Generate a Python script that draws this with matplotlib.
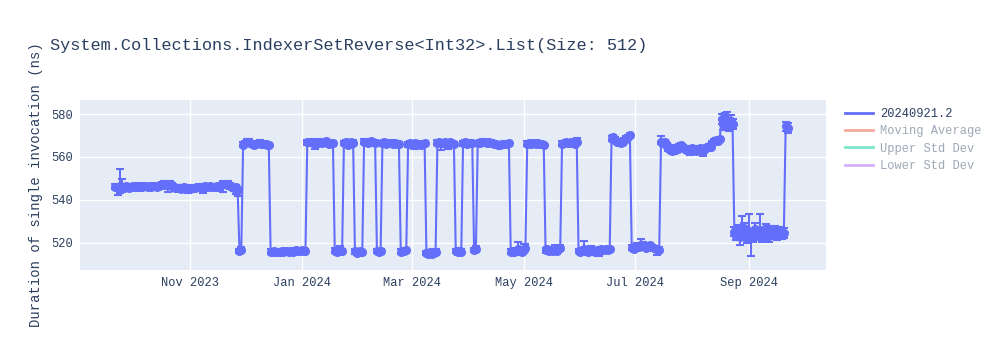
import matplotlib
matplotlib.use("Agg")
import matplotlib.pyplot as plt
import matplotlib.dates as mdates
from matplotlib.lines import Line2D
import pandas as pd

plt.rcParams['font.family'] = ['Liberation Mono', 'DejaVu Sans Mono']

title = "System.Collections.IndexerSetReverse<Int32>.List(Size: 512)"
y_label = "Duration of single invocation (ns)"
series_name = "20240921.2"
legend_names = ["20240921.2", "Moving Average", "Upper Std Dev", "Lower Std Dev"]
legend_colors = ["#636efa", "#EF553B", "#00cc96", "#ab63fa"]

# one run per day, starting here
start_date = "2023-09-21"

durations = [
    546.2, 546.0, 545.8, 546.5, 546.1, 545.7, 546.3, 546.0, 545.6, 546.2,
    546.4, 545.9, 546.1, 546.6, 546.0, 545.8, 546.3, 546.5, 546.1, 545.9,
    546.2, 546.7, 546.3, 546.0, 546.5, 546.8, 547.0, 547.4, 547.1, 546.9,
    547.3, 546.8, 546.2, 545.7, 545.4, 545.6, 545.2, 545.5, 545.8, 545.3,
    545.6, 545.1, 545.4, 545.7, 545.5, 545.9, 546.1, 545.8, 546.0, 546.3,
    545.9, 546.2, 546.4, 546.1, 545.8, 546.0, 546.5, 546.2, 547.1, 547.5,
    547.2, 546.8, 547.3, 546.5, 546.0, 545.4, 545.8, 544.6,
    516.3, 516.8,
    565.8, 566.4, 566.9, 567.2, 566.5, 566.1, 565.7, 566.0, 566.3, 566.6, 566.2, 565.9, 566.1, 565.8, 565.6,
    515.9, 515.6, 516.1, 515.8, 515.5, 515.9, 516.2, 515.7, 516.0, 516.3,
    515.8, 516.1, 515.9, 516.4, 516.6, 516.2, 516.0, 516.5, 516.3, 516.1,
    566.8, 567.1, 566.9, 566.6, 566.7, 567.0, 566.5, 566.9, 566.4, 566.8, 567.3, 566.7, 566.2, 566.5, 566.3,
    516.4, 515.9, 516.2, 516.7, 516.0,
    566.5, 566.9, 565.8, 566.3, 567.0, 566.6,
    516.0, 515.4, 515.8, 516.2, 515.6,
    567.2, 567.0, 566.6, 566.9, 567.3, 566.8, 566.5,
    516.2, 515.8, 516.0,
    566.4, 566.8, 566.1, 566.5, 566.7, 566.3, 566.0, 566.4, 566.2, 565.9,
    515.9, 516.3, 516.0, 516.5,
    566.0, 566.3, 565.8, 566.1, 566.4, 565.9, 566.2, 565.7, 566.0, 566.3,
    515.3, 515.0, 515.6, 514.8, 515.4, 515.9,
    566.6, 566.9, 566.3, 566.5, 566.8, 566.2, 566.6, 566.9, 566.4, 566.1,
    516.1, 515.7, 516.3, 515.9,
    566.4, 566.8, 566.2, 566.6, 566.3, 566.5,
    516.8, 517.1,
    566.5, 566.7, 566.9, 567.1, 566.8, 566.6, 566.9, 566.7, 566.4,
    566.2, 565.9, 565.6, 565.8, 566.1, 565.9, 566.2, 566.0, 566.3,
    515.8, 516.2, 515.6, 516.4, 517.0, 516.3, 515.9, 516.8, 517.5,
    566.2, 566.5, 566.0, 566.3, 566.6, 566.1, 566.4, 566.2, 565.9, 565.6,
    516.5, 517.1, 516.2, 516.6, 516.0, 516.8, 516.3, 516.9, 517.4,
    566.1, 566.4, 566.8, 566.3, 566.6, 566.9, 566.5, 566.2, 567.2,
    516.2, 515.8, 516.5, 517.1, 516.4, 515.6, 516.9, 517.3, 516.2,
    515.9, 516.7, 516.3, 517.0, 516.5, 516.8, 517.2, 516.6, 516.9,
    568.5, 569.3, 567.9, 567.0, 566.8, 566.6, 567.2, 567.8, 568.6, 569.4, 570.1,
    517.8, 517.3, 518.1, 518.6, 517.9, 518.4, 519.0, 518.2,
    517.6, 518.5, 518.9, 518.0, 517.4, 517.2, 516.9, 516.8,
    567.2, 566.5, 566.8, 565.4, 564.1, 563.2, 562.8, 563.5, 564.4, 563.9, 565.0,
    565.4, 564.6, 563.8, 563.1, 562.6, 563.4, 564.2, 563.6, 562.9, 563.3, 564.0,
    563.5, 562.7, 563.6, 564.5, 565.1, 564.8, 566.3, 567.4, 568.0, 567.6, 568.4,
    577.5, 575.2, 578.3, 576.1, 574.0, 576.8, 575.5,
    525.2, 523.4, 526.1, 522.8, 524.5, 527.0, 523.6, 521.9, 525.3, 524.0,
    522.5, 526.4, 523.1, 524.8, 525.9, 522.4, 523.7, 526.8, 524.2, 523.0,
    525.6, 524.4, 526.0, 523.5, 524.9, 525.4, 523.8, 524.6,
    574.2, 573.4,
]

err_plus = [
    1.1, 1.3, 1.0, 7.8, 3.5, 1.2, 1.0, 1.4, 1.1, 1.3,
    1.0, 1.2, 1.5, 1.1, 1.0, 1.3, 1.2, 1.0, 1.4, 1.1,
    1.2, 1.0, 1.3, 1.1, 1.2, 1.0, 1.4, 1.2, 1.1, 1.0,
    1.3, 1.2, 1.0, 1.1, 1.4, 1.2, 1.0, 1.3, 1.1, 1.0,
    1.2, 1.4, 1.1, 1.0, 1.3, 1.2, 1.1, 1.0, 1.4, 1.2,
    1.0, 1.3, 1.1, 1.2, 1.0, 1.4, 1.1, 1.3, 1.0, 1.2,
    1.1, 1.0, 1.3, 1.2, 1.1, 1.0, 1.2, 1.1,
    1.0, 1.2,
    1.2, 1.0, 1.3, 1.1, 1.0, 1.2, 1.1, 1.0, 1.3, 1.2, 1.0, 1.1, 1.2, 1.0, 1.1,
    1.0, 1.2, 1.1, 1.0, 1.3, 1.1, 1.0, 1.2, 1.1, 1.0,
    1.2, 1.1, 1.0, 1.3, 1.1, 1.0, 1.2, 1.0, 1.1, 1.2,
    1.1, 1.0, 1.2, 1.1, 1.0, 1.3, 1.1, 1.0, 1.2, 1.1, 1.0, 1.2, 1.1, 1.0, 1.2,
    1.0, 1.2, 1.1, 2.0, 1.0,
    1.1, 1.0, 1.2, 1.1, 1.0, 1.2,
    1.0, 1.1, 1.2, 1.0, 1.1,
    1.2, 1.0, 1.1, 1.2, 1.0, 1.1, 1.2,
    1.1, 1.0, 1.2,
    1.0, 1.2, 1.1, 1.0, 1.2, 1.1, 1.0, 1.2, 1.1, 1.0,
    1.1, 1.0, 1.2, 1.1,
    1.2, 1.0, 1.1, 1.2, 1.0, 1.1, 1.2, 1.0, 1.1, 1.2,
    1.0, 1.1, 1.2, 1.0, 1.1, 1.2,
    1.1, 1.0, 1.2, 1.1, 1.0, 1.2, 1.1, 1.0, 1.2, 1.1,
    1.0, 1.2, 1.1, 1.0,
    1.1, 1.2, 1.0, 1.1, 1.2, 1.0,
    1.0, 1.2,
    1.1, 1.0, 1.2, 1.1, 1.0, 1.2, 1.1, 1.0, 1.2,
    1.1, 1.0, 1.2, 1.1, 1.0, 1.2, 1.1, 1.0, 1.2,
    1.2, 1.1, 1.0, 1.3, 3.6, 1.2, 1.1, 2.5, 1.8,
    1.1, 1.0, 1.2, 1.1, 1.0, 1.2, 1.1, 1.0, 1.2, 1.1,
    1.1, 1.0, 1.2, 1.1, 1.0, 2.2, 1.1, 1.2, 1.6,
    1.2, 1.0, 1.1, 1.2, 1.0, 1.1, 1.2, 1.0, 1.8,
    1.1, 1.2, 1.0, 3.8, 1.1, 1.2, 1.0, 1.1, 1.2,
    1.0, 1.1, 1.2, 1.0, 1.1, 1.2, 1.0, 1.1, 1.2,
    1.2, 1.1, 1.4, 1.0, 1.1, 1.2, 1.0, 1.1, 1.2, 1.0, 1.1,
    1.2, 1.1, 1.0, 1.2, 1.1, 3.5, 1.2, 1.0,
    1.1, 1.2, 1.0, 1.1, 1.2, 1.0, 1.1, 1.2,
    2.8, 1.2, 1.1, 1.0, 1.2, 1.1, 1.0, 1.2, 1.1, 1.0, 1.2,
    1.1, 1.0, 1.2, 1.1, 1.0, 1.2, 1.1, 1.0, 1.2, 1.1, 1.0,
    1.2, 1.1, 1.0, 1.2, 1.1, 1.0, 1.2, 1.1, 1.0, 1.2, 1.1,
    2.5, 3.0, 2.2, 4.9, 2.0, 2.6, 2.4,
    2.0, 3.1, 2.2, 2.8, 7.8, 2.1, 2.6, 2.0, 8.0, 2.4,
    2.2, 2.6, 2.0, 2.3, 7.6, 2.1, 2.5, 2.0, 2.2, 2.4,
    2.1, 2.3, 2.0, 2.2, 2.4, 2.1, 2.0, 2.2,
    2.0, 2.2,
]

err_minus = [
    1.1, 1.2, 3.7, 3.5, 1.1, 1.2, 1.0, 1.3, 1.1, 1.2,
    1.0, 1.2, 1.3, 1.1, 1.0, 1.2, 1.1, 1.0, 1.3, 1.1,
    1.2, 1.0, 1.2, 1.1, 1.2, 1.0, 1.3, 1.2, 1.1, 3.2,
    1.2, 1.1, 1.0, 1.1, 1.3, 1.2, 1.0, 1.2, 1.1, 1.0,
    2.5, 1.3, 1.1, 1.0, 1.2, 1.1, 1.0, 1.2, 2.7, 1.1,
    1.0, 1.2, 1.1, 1.2, 1.0, 1.3, 1.1, 1.2, 1.0, 4.0,
    1.1, 1.0, 1.2, 1.1, 1.0, 1.2, 2.9, 2.7,
    1.0, 1.1,
    1.2, 1.0, 1.2, 1.1, 1.0, 1.2, 1.1, 1.0, 1.2, 1.1, 1.0, 1.1, 1.2, 1.0, 1.1,
    1.0, 1.1, 1.0, 1.2, 1.0, 1.1, 1.0, 1.2, 1.1, 1.0,
    1.1, 1.0, 1.2, 1.1, 1.0, 1.2, 1.1, 1.0, 1.1, 1.2,
    1.1, 1.0, 1.2, 1.1, 2.9, 1.2, 1.1, 1.0, 1.2, 1.1, 1.0, 1.2, 1.1, 1.0, 1.2,
    1.0, 1.1, 1.2, 1.0, 1.1,
    1.1, 1.0, 1.2, 1.1, 1.0, 1.2,
    1.0, 1.1, 1.2, 1.0, 1.1,
    1.2, 1.0, 1.1, 1.2, 1.0, 1.1, 1.2,
    1.1, 1.0, 1.2,
    1.0, 1.2, 1.1, 1.0, 1.2, 1.1, 1.0, 1.2, 1.1, 1.0,
    1.1, 1.0, 1.2, 1.1,
    1.2, 1.0, 1.1, 1.2, 2.6, 1.1, 1.2, 1.0, 1.1, 1.2,
    1.0, 1.1, 1.2, 1.0, 1.1, 1.2,
    1.1, 1.0, 3.0, 1.1, 1.0, 1.2, 2.8, 1.0, 1.2, 1.1,
    1.0, 1.2, 1.1, 1.0,
    1.1, 1.2, 1.0, 1.1, 1.2, 1.0,
    1.0, 1.2,
    1.1, 1.0, 1.2, 1.1, 1.0, 1.2, 1.1, 1.0, 1.2,
    1.1, 1.0, 1.2, 1.1, 1.0, 1.2, 1.1, 1.0, 1.2,
    1.2, 1.1, 1.0, 1.3, 2.8, 1.2, 1.1, 1.0, 1.2,
    1.1, 1.0, 1.2, 1.1, 1.0, 1.2, 1.1, 1.0, 1.2, 1.1,
    1.1, 1.0, 1.2, 1.1, 1.0, 1.2, 1.1, 1.2, 1.0,
    1.2, 1.0, 1.1, 1.2, 1.0, 1.1, 1.2, 1.0, 1.1,
    1.1, 1.2, 1.0, 1.1, 1.1, 1.2, 2.5, 1.1, 1.2,
    1.0, 1.1, 2.4, 1.0, 1.1, 1.2, 1.0, 1.1, 1.2,
    1.2, 1.1, 1.2, 1.0, 1.1, 1.2, 1.0, 1.1, 1.2, 1.0, 1.1,
    1.2, 1.1, 1.0, 1.2, 1.1, 1.0, 1.2, 1.0,
    1.1, 1.2, 1.0, 1.1, 1.2, 1.0, 2.4, 1.2,
    1.2, 1.2, 1.1, 1.0, 1.2, 1.1, 1.0, 2.2, 1.1, 1.0, 1.2,
    1.1, 1.0, 1.2, 1.1, 1.0, 2.4, 1.1, 1.0, 1.2, 1.1, 1.0,
    1.2, 2.2, 1.0, 1.2, 1.1, 1.0, 1.2, 1.1, 1.0, 1.2, 1.1,
    2.0, 2.4, 2.2, 2.6, 2.0, 3.2, 2.4,
    2.0, 2.2, 2.1, 4.0, 2.2, 2.1, 2.4, 2.0, 2.1, 10.2,
    2.2, 2.3, 2.0, 2.3, 2.1, 2.2, 2.5, 2.0, 2.2, 2.4,
    2.1, 2.3, 2.0, 2.2, 2.4, 2.1, 2.0, 2.2,
    2.2, 2.4,
]

dates = pd.date_range(start_date, periods=len(durations), freq="D")

fig = plt.figure(figsize=(10, 3.5), dpi=100)
ax = fig.add_axes([0.08, 0.229, 0.746, 0.485])
ax.set_facecolor("#E5ECF6")

ax.errorbar(dates, durations, yerr=[err_minus, err_plus], fmt="-o",
            color="#636efa", lw=1.5, markersize=5.5, elinewidth=1.5,
            capsize=3, capthick=1.5, zorder=3)

ax.set_ylim(507.4, 586.5)
ax.set_xlim(pd.Timestamp("2023-09-02"), pd.Timestamp("2024-10-13"))
ax.set_yticks([520, 540, 560, 580])
ax.xaxis.set_major_locator(mdates.MonthLocator(bymonth=[1, 3, 5, 7, 9, 11]))
ax.xaxis.set_major_formatter(mdates.DateFormatter("%b %Y"))

ax.grid(True, color="white", lw=1)
ax.set_axisbelow(True)
for s in ax.spines.values():
    s.set_visible(False)
ax.tick_params(length=0, labelsize=8.64, labelcolor="#2a3f5f", pad=5)
ax.set_ylabel(y_label, fontsize=10, color="#2a3f5f", labelpad=6)

fig.text(0.05, 0.871, title, fontsize=12.2, color="#2a3f5f", va="center")

handles = [Line2D([], [], color=c, lw=2, alpha=1.0 if i == 0 else 0.5)
           for i, c in enumerate(legend_colors)]
leg = ax.legend(handles, legend_names, loc="upper left",
                bbox_to_anchor=(0.845, 0.692), bbox_transform=fig.transFigure,
                frameon=False, fontsize=8.64, handlelength=2.3,
                handletextpad=0.6, labelspacing=0.45, borderpad=0, borderaxespad=0)
for i, t in enumerate(leg.get_texts()):
    t.set_color("#2a3f5f")
    if i > 0:
        t.set_alpha(0.45)

fig.savefig("out.png", dpi=100)
